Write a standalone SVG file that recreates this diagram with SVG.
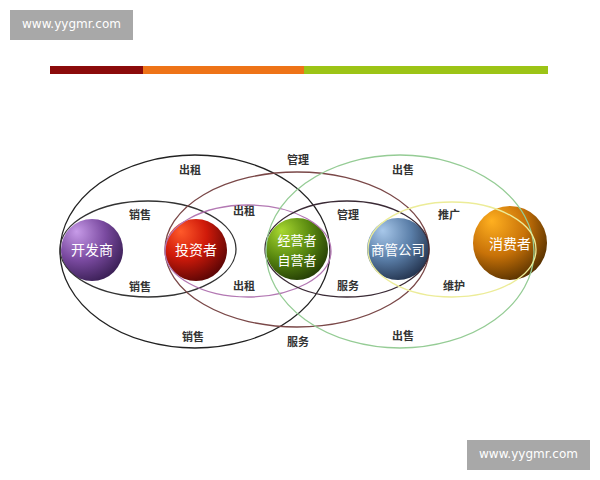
<svg xmlns="http://www.w3.org/2000/svg" width="600" height="480" viewBox="0 0 600 480">
<defs>
<style>
.lbl{font-family:"Noto Sans CJK SC","Noto Sans",sans-serif;font-size:11px;font-weight:bold;fill:#333;text-anchor:middle;dominant-baseline:central}
.nt{font-family:"Noto Sans CJK SC","Noto Sans",sans-serif;font-size:14px;fill:#fff;text-anchor:middle;dominant-baseline:central}
.wm{font-family:"DejaVu Sans","Liberation Sans",sans-serif;font-size:12px;fill:#fff;text-anchor:middle;dominant-baseline:central}
.e{fill:none;stroke-width:1.3}
</style>
<radialGradient id="gP" cx="0.35" cy="0.3" r="0.75" fx="0.25" fy="0.2"><stop offset="0" stop-color="#c79be8"/><stop offset="0.55" stop-color="#7a4aa0"/><stop offset="1" stop-color="#3a1f55"/></radialGradient>
<radialGradient id="gR" cx="0.35" cy="0.3" r="0.75" fx="0.25" fy="0.2"><stop offset="0" stop-color="#ff5a2a"/><stop offset="0.5" stop-color="#d01a0a"/><stop offset="1" stop-color="#5a0505"/></radialGradient>
<radialGradient id="gG" cx="0.35" cy="0.3" r="0.75" fx="0.25" fy="0.2"><stop offset="0" stop-color="#a8d830"/><stop offset="0.55" stop-color="#5a8a10"/><stop offset="1" stop-color="#243d05"/></radialGradient>
<radialGradient id="gB" cx="0.35" cy="0.3" r="0.75" fx="0.25" fy="0.2"><stop offset="0" stop-color="#a8c8ea"/><stop offset="0.55" stop-color="#5a7ea8"/><stop offset="1" stop-color="#24344f"/></radialGradient>
<radialGradient id="gO" cx="0.35" cy="0.3" r="0.75" fx="0.25" fy="0.2"><stop offset="0" stop-color="#ffb020"/><stop offset="0.55" stop-color="#c87208"/><stop offset="1" stop-color="#553000"/></radialGradient>
</defs>
<rect width="600" height="480" fill="#fff"/>
<g id="header">
<rect x="10" y="10" width="123" height="30" fill="#a8a8a8"/>
<text class="wm" x="71.5" y="24">www.yygmr.com</text>
<rect x="50" y="66" width="93" height="8" fill="#8b0a0a"/>
<rect x="143" y="66" width="161" height="8" fill="#ee7318"/>
<rect x="304" y="66" width="244" height="8" fill="#9cc416"/>
</g>
<g id="footer">
<rect x="467" y="440" width="123" height="30" fill="#a8a8a8"/>
<text class="wm" x="528.5" y="454">www.yygmr.com</text>
</g>
<g id="n-kaifa"><circle cx="92" cy="250" r="31" fill="url(#gP)"/><text class="nt" x="92" y="249">开发商</text></g>
<g id="n-touzi"><circle cx="196" cy="250" r="31" fill="url(#gR)"/><text class="nt" x="196" y="249">投资者</text></g>
<g id="n-jingying"><circle cx="297" cy="249" r="31" fill="url(#gG)"/><text class="nt" x="297" y="239.5" style="font-size:13px">经营者</text><text class="nt" x="297" y="259" style="font-size:13px">自营者</text></g>
<g id="n-shangguan"><circle cx="398" cy="249" r="31" fill="url(#gB)"/><text class="nt" x="398" y="249" style="font-size:13.5px">商管公司</text></g>
<g id="n-xiaofei"><circle cx="510" cy="243" r="37" fill="url(#gO)"/><text class="nt" x="510" y="243">消费者</text></g>
<g id="connectors">
<ellipse class="e" cx="195" cy="251.5" rx="135" ry="96.5" stroke="#222"/>
<ellipse class="e" cx="148" cy="249" rx="88" ry="48" stroke="#333"/>
<ellipse class="e" cx="297" cy="249.5" rx="132" ry="77.5" stroke="#7a4848"/>
<ellipse class="e" cx="248" cy="251" rx="83" ry="46" stroke="#b378b3"/>
<ellipse class="e" cx="347" cy="249" rx="82" ry="48" stroke="#3a2a35"/>
<ellipse class="e" cx="400" cy="251.5" rx="134" ry="96.5" stroke="#95cc95"/>
<ellipse class="e" cx="452" cy="249.5" rx="84" ry="47.5" stroke="#ecec98"/>
</g>
<g id="labels">
<text class="lbl" x="190" y="169">出租</text>
<text class="lbl" x="298" y="159">管理</text>
<text class="lbl" x="403" y="169">出售</text>
<text class="lbl" x="140" y="214">销售</text>
<text class="lbl" x="244" y="210">出租</text>
<text class="lbl" x="348" y="214">管理</text>
<text class="lbl" x="449" y="214">推广</text>
<text class="lbl" x="140" y="286">销售</text>
<text class="lbl" x="244" y="285">出租</text>
<text class="lbl" x="348" y="285">服务</text>
<text class="lbl" x="454" y="285">维护</text>
<text class="lbl" x="193" y="336">销售</text>
<text class="lbl" x="298" y="341">服务</text>
<text class="lbl" x="403" y="335">出售</text>
</g>
</svg>
